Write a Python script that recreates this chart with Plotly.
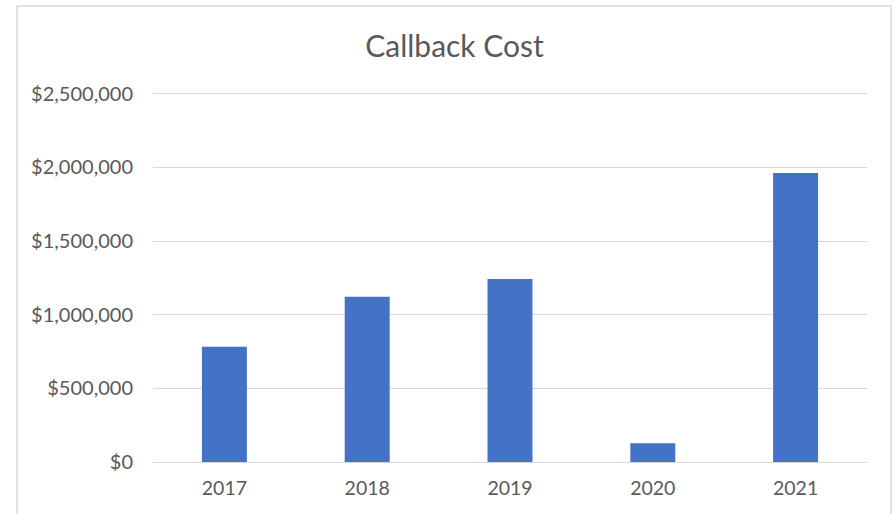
import plotly.graph_objects as go

years = ["2017", "2018", "2019", "2020", "2021"]
costs = [782000, 1122000, 1242000, 127000, 1961000]
tick_vals = [0, 500000, 1000000, 1500000, 2000000, 2500000]
tick_text = ["$0", "$500,000", "$1,000,000", "$1,500,000", "$2,000,000", "$2,500,000"]

W, H = 895, 514
y_zero_px, y_top_px = 462, 94
ymax = 2500000 * 1.01
px_per_unit = (y_zero_px - y_top_px) / 2500000
L, R = 153, 28
B = H - y_zero_px
T = y_top_px - (ymax - 2500000) * px_per_unit
pw = W - L - R
ph = H - T - B

fig = go.Figure(go.Bar(x=years, y=costs, marker=dict(color="#4472C4", line=dict(width=0))))

fig.update_layout(
    width=W, height=H,
    margin=dict(l=L, r=R, t=T, b=B, autoexpand=False),
    paper_bgcolor="white", plot_bgcolor="white",
    bargap=0.685,
    showlegend=False,
    font=dict(family="Lato, Open Sans, sans-serif", color="#595959"),
    title=dict(text="Callback Cost", x=454.5 / W, xanchor="center",
               y=1 - 46 / H, yanchor="middle",
               font=dict(size=30, color="#595959")),
    xaxis=dict(showgrid=False, showline=False, ticks="", ticklabelstandoff=12,
               tickfont=dict(size=19.5, color="#595959")),
    yaxis=dict(range=[0, ymax], tickvals=tick_vals, ticktext=tick_text,
               showgrid=True, gridcolor="#d9d9d9", gridwidth=1.3,
               zeroline=True, zerolinecolor="#d9d9d9", zerolinewidth=1.3,
               showline=False, ticks="", ticklabelstandoff=19,
               tickfont=dict(size=20, color="#595959")),
    shapes=[dict(type="rect", xref="paper", yref="paper",
                 x0=(17 - L) / pw, x1=(891 - L) / pw,
                 y0=-0.3, y1=(H - B - 6.5) / ph,
                 line=dict(color="#d9d9d9", width=1.5), fillcolor="rgba(0,0,0,0)", layer="below")],
)

fig.write_html("out.html", config={"displayModeBar": False},
               post_script="document.body.style.margin='0';document.body.style.padding='0';")
